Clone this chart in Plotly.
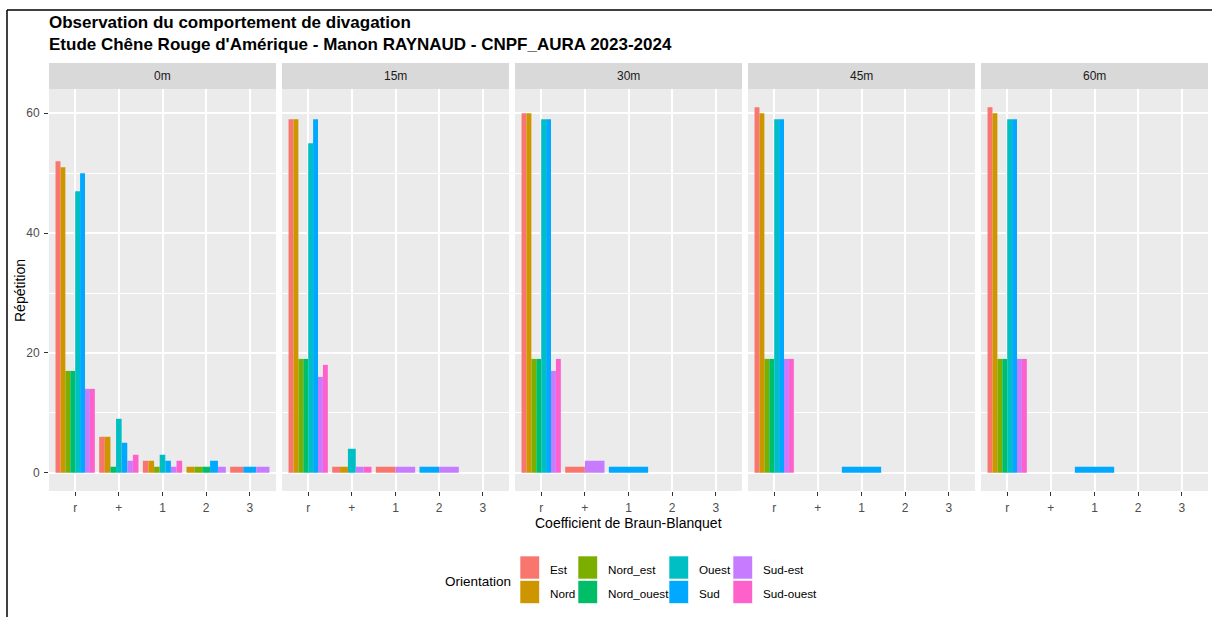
import plotly.graph_objects as go

FACETS = ["0m", "15m", "30m", "45m", "60m"]
COEF = ["r", "+", "1", "2", "3"]
ORIENT = ["Est", "Nord", "Nord_est", "Nord_ouest", "Ouest", "Sud", "Sud-est", "Sud-ouest"]
COLORS = ["#F8766D", "#CD9600", "#7CAE00", "#00BE67", "#00BFC4", "#00A9FF", "#C77CFF", "#FF61CC"]

# counts per orientation, order of COEF: r, +, 1, 2, 3  (0 = not observed)
COUNTS_0M = {
    "Est": [52, 6, 2, 0, 1], "Nord": [51, 6, 2, 1, 0], "Nord_est": [17, 0, 1, 1, 0],
    "Nord_ouest": [17, 1, 0, 1, 0], "Ouest": [47, 9, 3, 0, 0], "Sud": [50, 5, 2, 2, 1],
    "Sud-est": [14, 2, 1, 1, 1], "Sud-ouest": [14, 3, 2, 0, 0],
}
COUNTS_15M = {
    "Est": [59, 1, 1, 0, 0], "Nord": [59, 1, 0, 0, 0], "Nord_est": [19, 0, 0, 0, 0],
    "Nord_ouest": [19, 0, 0, 0, 0], "Ouest": [55, 4, 0, 0, 0], "Sud": [59, 0, 0, 1, 0],
    "Sud-est": [16, 1, 1, 1, 0], "Sud-ouest": [18, 1, 0, 0, 0],
}
COUNTS_30M = {
    "Est": [60, 1, 0, 0, 0], "Nord": [60, 0, 0, 0, 0], "Nord_est": [19, 0, 0, 0, 0],
    "Nord_ouest": [19, 0, 0, 0, 0], "Ouest": [59, 0, 0, 0, 0], "Sud": [59, 0, 1, 0, 0],
    "Sud-est": [17, 2, 0, 0, 0], "Sud-ouest": [19, 0, 0, 0, 0],
}
COUNTS_45M = {
    "Est": [61, 0, 0, 0, 0], "Nord": [60, 0, 0, 0, 0], "Nord_est": [19, 0, 0, 0, 0],
    "Nord_ouest": [19, 0, 0, 0, 0], "Ouest": [59, 0, 0, 0, 0], "Sud": [59, 0, 1, 0, 0],
    "Sud-est": [19, 0, 0, 0, 0], "Sud-ouest": [19, 0, 0, 0, 0],
}
COUNTS_60M = {
    "Est": [61, 0, 0, 0, 0], "Nord": [60, 0, 0, 0, 0], "Nord_est": [19, 0, 0, 0, 0],
    "Nord_ouest": [19, 0, 0, 0, 0], "Ouest": [59, 0, 0, 0, 0], "Sud": [59, 0, 1, 0, 0],
    "Sud-est": [19, 0, 0, 0, 0], "Sud-ouest": [19, 0, 0, 0, 0],
}
Y_TICKS = [0, 20, 40, 60]
Y_MINOR = [10, 30, 50]

TITLE_1 = "Observation du comportement de divagation"
TITLE_2 = "Etude Chêne Rouge d'Amérique - Manon RAYNAUD - CNPF_AURA 2023-2024"
X_TITLE = "Coefficient de Braun-Blanquet"
Y_TITLE = "Répétition"
LEGEND_TITLE = "Orientation"

ALL_COUNTS = [COUNTS_0M, COUNTS_15M, COUNTS_30M, COUNTS_45M, COUNTS_60M]

# ---------------- layout geometry (pixels) ----------------
W, H = 1212, 617
FONT = "Liberation Sans, Arial, sans-serif"
PANEL_X0 = [49, 282, 515, 748, 981]
PANEL_W = 227
PANEL_TOP, PANEL_BOT = 89, 491
STRIP_TOP = 63


def px(x):
    return x / W


def py(y):
    return 1 - y / H


fig = go.Figure()

# ggplot-like dodge: only observed combinations share the 0.9 slot
for f, counts in enumerate(ALL_COUNTS):
    ax = "" if f == 0 else str(f + 1)
    xs = {o: [] for o in ORIENT}
    ys = {o: [] for o in ORIENT}
    ws = {o: [] for o in ORIENT}
    for c in range(len(COEF)):
        present = [o for o in ORIENT if counts[o][c] > 0]
        n = len(present)
        if n == 0:
            continue
        w = 0.9 / n
        for i, o in enumerate(present):
            xs[o].append(c + 1 - 0.45 + (i + 0.5) * w)
            ys[o].append(counts[o][c])
            ws[o].append(w)
    for o, col in zip(ORIENT, COLORS):
        if not xs[o]:
            continue
        fig.add_trace(go.Bar(
            x=xs[o], y=ys[o], width=ws[o], name=o,
            marker=dict(color=col, line=dict(width=0)),
            xaxis="x" + ax, yaxis="y" + ax, showlegend=False,
            hovertemplate=o + ": %{y}<extra>" + FACETS[f] + "</extra>",
        ))

layout = dict(
    width=W, height=H, margin=dict(l=0, r=0, t=0, b=0),
    paper_bgcolor="white", plot_bgcolor="#EBEBEB",
    font=dict(family=FONT, color="#1A1A1A"),
    barmode="overlay", showlegend=False,
)

for f in range(len(FACETS)):
    ax = "" if f == 0 else str(f + 1)
    x0 = PANEL_X0[f]
    layout["xaxis" + ax] = dict(
        domain=[px(x0), px(x0 + PANEL_W)], anchor="y" + ax,
        range=[0.4, len(COEF) + 0.6], tickvals=list(range(1, len(COEF) + 1)), ticktext=COEF,
        showgrid=True, gridcolor="white", gridwidth=1.6, zeroline=False,
        ticks="outside", ticklen=4, tickcolor="#333333", tickwidth=1,
        tickfont=dict(size=12, color="#4D4D4D", family=FONT), ticklabelstandoff=2,
        showline=False, fixedrange=True,
    )
    layout["yaxis" + ax] = dict(
        domain=[py(PANEL_BOT), py(PANEL_TOP)], anchor="x" + ax,
        range=[-3.05, 64.05], tickvals=Y_TICKS,
        showgrid=True, gridcolor="white", gridwidth=1.6, zeroline=False,
        minor=dict(tickvals=Y_MINOR, showgrid=True, gridcolor="white", gridwidth=0.8, ticks=""),
        ticks="outside" if f == 0 else "", ticklen=4, tickcolor="#333333", tickwidth=1,
        showticklabels=(f == 0),
        tickfont=dict(size=12, color="#4D4D4D", family=FONT), ticklabelstandoff=2,
        showline=False, fixedrange=True,
    )

shapes = []
annotations = []

# facet strips
for f, name in enumerate(FACETS):
    x0 = PANEL_X0[f]
    shapes.append(dict(type="rect", xref="paper", yref="paper",
                       x0=px(x0), x1=px(x0 + PANEL_W), y0=py(PANEL_TOP), y1=py(STRIP_TOP),
                       fillcolor="#D9D9D9", line=dict(width=0), layer="below"))
    annotations.append(dict(text=name, xref="paper", yref="paper",
                            x=px(x0 + PANEL_W / 2), y=py((STRIP_TOP + PANEL_TOP) / 2),
                            xanchor="center", yanchor="middle", showarrow=False,
                            font=dict(size=12, color="#1A1A1A", family=FONT)))

# two-line bold title
annotations.append(dict(text="<b>" + TITLE_1 + "<br>" + TITLE_2 + "</b>", xref="paper", yref="paper",
                        x=px(47), y=py(33.5), xanchor="left", yanchor="middle", align="left",
                        showarrow=False, font=dict(size=17, color="black", family=FONT)))
# axis titles
annotations.append(dict(text=X_TITLE, xref="paper", yref="paper",
                        x=px((PANEL_X0[0] + PANEL_X0[-1] + PANEL_W) / 2), y=py(523),
                        xanchor="center", yanchor="middle", showarrow=False,
                        font=dict(size=14, color="black", family=FONT)))
annotations.append(dict(text=Y_TITLE, xref="paper", yref="paper",
                        x=px(20), y=py((PANEL_TOP + PANEL_BOT) / 2), textangle=-90,
                        xanchor="center", yanchor="middle", showarrow=False,
                        font=dict(size=14, color="black", family=FONT)))

# legend (2 rows, filled column by column like ggplot)
LEG_COL_X = [520, 578, 669, 733]
LEG_ROW_Y = [556, 580.5]
KEY_W, KEY_H = 19.5, 23
annotations.append(dict(text=LEGEND_TITLE, xref="paper", yref="paper",
                        x=px(513), y=py(581), xanchor="right", yanchor="middle", showarrow=False,
                        font=dict(size=13.5, color="black", family=FONT)))
for i, (o, col) in enumerate(zip(ORIENT, COLORS)):
    cx = LEG_COL_X[i // 2]
    ry = LEG_ROW_Y[i % 2]
    shapes.append(dict(type="rect", xref="paper", yref="paper",
                       x0=px(cx), x1=px(cx + KEY_W), y0=py(ry + KEY_H), y1=py(ry),
                       fillcolor=col, line=dict(width=1, color="rgba(255,255,255,0.6)")))
    annotations.append(dict(text=o, xref="paper", yref="paper",
                            x=px(cx + KEY_W + 8), y=py(ry + KEY_H / 2 + 1.5),
                            xanchor="left", yanchor="middle", showarrow=False,
                            font=dict(size=11.7, color="black", family=FONT)))

# image frame (top and left border lines)
shapes.append(dict(type="line", xref="paper", yref="paper", x0=px(7), x1=1, y0=py(10), y1=py(10),
                   line=dict(color="black", width=1.5)))
shapes.append(dict(type="line", xref="paper", yref="paper", x0=px(7), x1=px(7), y0=py(10), y1=0,
                   line=dict(color="black", width=1.5)))

layout["shapes"] = shapes
layout["annotations"] = annotations
fig.update_layout(**layout)

fig.write_html("out.html", config={"displayModeBar": False},
               post_script="document.body.style.margin='0';document.body.style.overflow='hidden';")
